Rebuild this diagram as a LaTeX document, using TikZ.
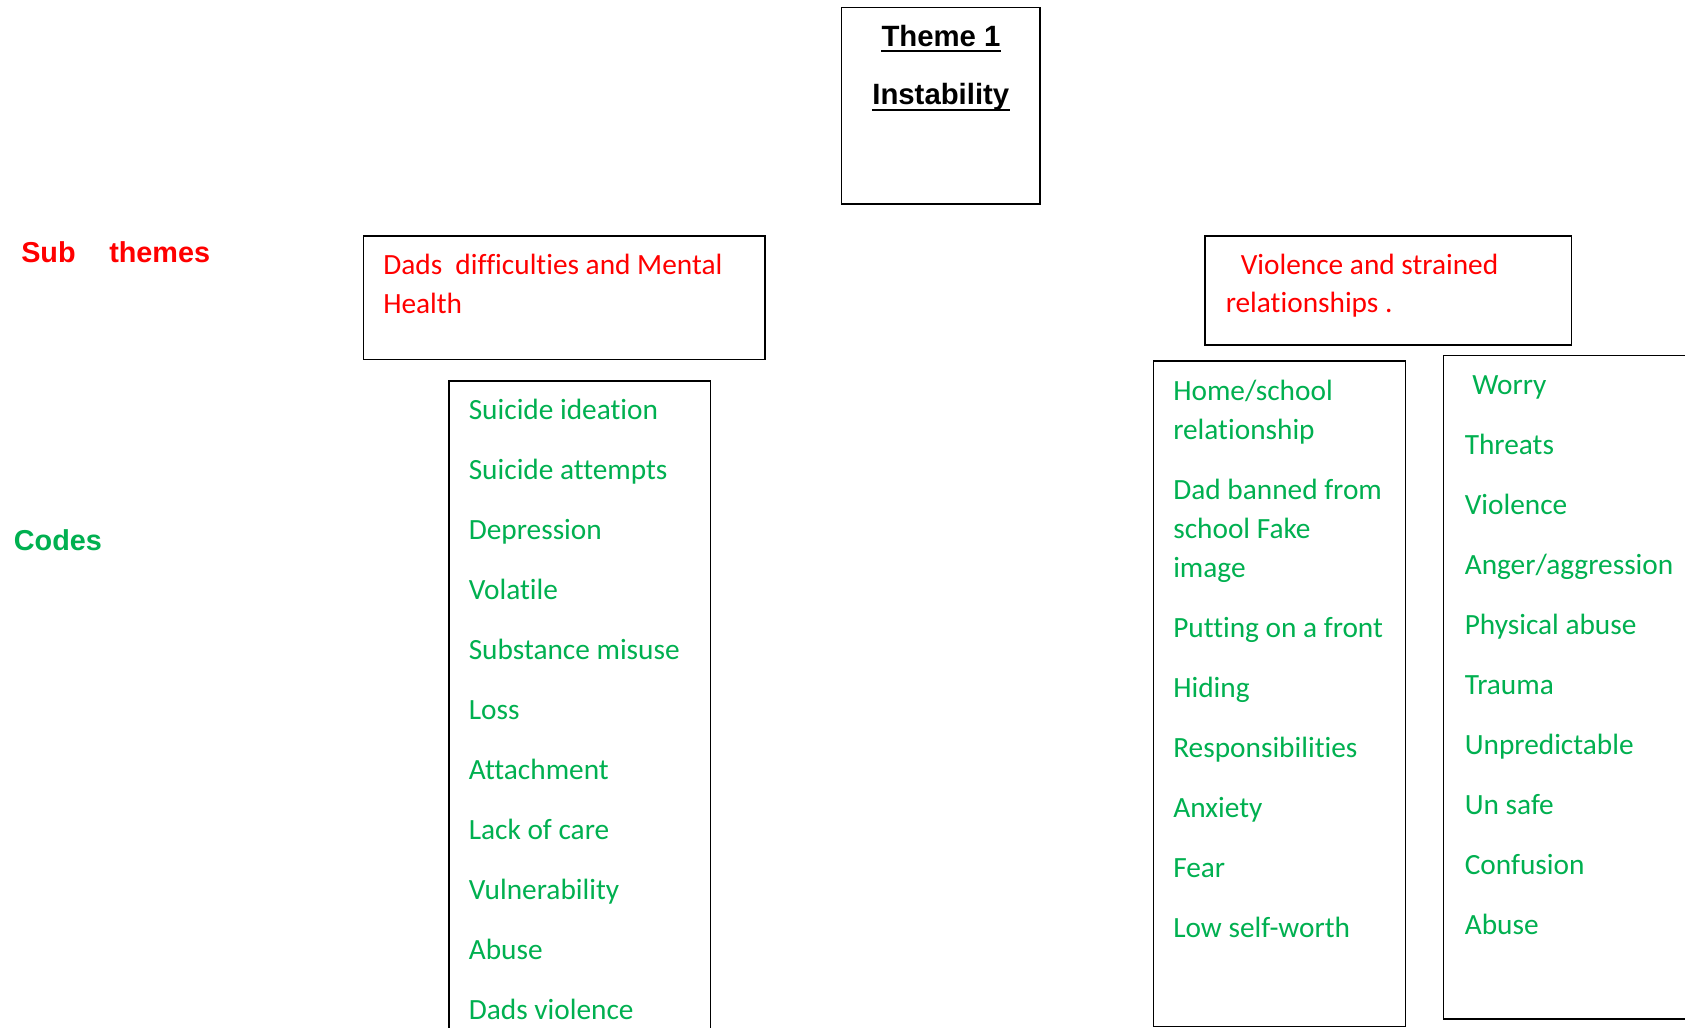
\documentclass[tikz,border=0pt]{standalone}
\usepackage{fontspec}
\setmainfont{Carlito}[Ligatures=NoCommon]
\newfontfamily\arialfont{Liberation Sans}
\definecolor{wgreen}{RGB}{0,176,80}
\definecolor{wred}{RGB}{255,0,0}
\begin{document}
\begin{tikzpicture}[x=0.75pt,y=-0.75pt]
\tikzset{
 frame/.style={draw=black, line width=1.1pt},
 code/.style={anchor=base west, inner sep=0pt, text=wgreen, font=\fontsize{22}{26}\selectfont},
 subt/.style={anchor=base west, inner sep=0pt, text=wred, font=\fontsize{22}{26}\selectfont},
 lab/.style={anchor=base west, inner sep=0pt, font=\arialfont\bfseries\fontsize{21.6}{26}\selectfont},
 ttl/.style={anchor=base, inner sep=0pt, font=\arialfont\bfseries\fontsize{22}{26}\selectfont},
 uline/.style={line width=2pt},
}
\useasboundingbox (0,0) rectangle (1685,1028);
\clip (0,0) rectangle (1685,1028);
\fill[white] (0,0) rectangle (1685,1028);

% Theme box
\coordinate (thA) at (841.7,7.3);
\coordinate (thB) at (1040,204);
\draw[frame] (thA) rectangle (thB);
\node[ttl] (th1) at (941,46.7) {Theme 1};
\node[ttl] (th2) at (940.8,104) {Instability};
\draw[uline] ([yshift=-3.3pt]th1.base west) -- ([yshift=-3.3pt]th1.base east);
\draw[uline] ([yshift=-4.4pt]th2.base west) -- ([yshift=-4.4pt]th2.base east);

% Left labels
\node[lab, text=wred] (sub1) at (21,262.3) {Sub};
\node[lab, text=wred] (sub2) at (109,262.3) {themes};
\node[lab, text=wgreen] (codes) at (13.6,550) {Codes};

% Sub theme boxes
\coordinate (s1A) at (363.3,236);
\coordinate (s1B) at (765,359.3);
\draw[frame] (s1A) rectangle (s1B);
\node[subt] (s1t1) at (383,274.3) {Dads\ \ difficulties and Mental};
\node[subt] (s1t2) at (383,313.3) {Health};

\coordinate (s2A) at (1205,236);
\coordinate (s2B) at (1571.7,345);
\draw[frame] (s2A) rectangle (s2B);
\node[subt] (s2t1) at (1240.5,274) {Violence and strained};
\node[subt] (s2t2) at (1225.5,312.3) {relationships .};

% Left code box
\coordinate (c1a) at (449,1040);
\coordinate (c1b) at (449,381);
\coordinate (c1c) at (710.7,381);
\coordinate (c1d) at (710.7,1040);
\draw[frame] (c1a) -- (c1b) -- (c1c) -- (c1d);
\foreach \t [count=\i from 0] in {Suicide ideation,Suicide attempts,Depression,Volatile,Substance misuse,Loss,Attachment,Lack of care,Vulnerability,Abuse,Dads violence}
  \node[code] (lc\i) at (468.5,419+60*\i) {\t};

% Middle code box
\coordinate (c2A) at (1153.3,361);
\coordinate (c2B) at (1405.7,1026.3);
\draw[frame] (c2A) rectangle (c2B);
\node[code] (m1) at (1173,400) {Home/school};
\node[code] (m2) at (1173,439) {relationship};
\node[code] (m3) at (1173,499) {Dad banned from};
\node[code] (m4) at (1173,538) {school Fake};
\node[code] (m5) at (1173,577) {image};
\node[code] (m6) at (1173,637) {Putting on a front};
\node[code] (m7) at (1173,697) {Hiding};
\node[code] (m8) at (1173,757) {Responsibilities};
\node[code] (m9) at (1173,817) {Anxiety};
\node[code] (m10) at (1173,877) {Fear};
\node[code] (m11) at (1173,937) {Low self-worth};

% Right code box
\coordinate (c3A) at (1443.3,355.7);
\coordinate (c3B) at (1720,1019);
\draw[frame] (c3A) rectangle (c3B);
\node[code] (r0) at (1472,394) {Worry};
\foreach \t [count=\i from 1] in {Threats,Violence,Anger/aggression,Physical abuse,Trauma,Unpredictable,Un safe,Confusion,Abuse}
  \node[code] (r\i) at (1464.5,394+60*\i) {\t};
\end{tikzpicture}
\end{document}
